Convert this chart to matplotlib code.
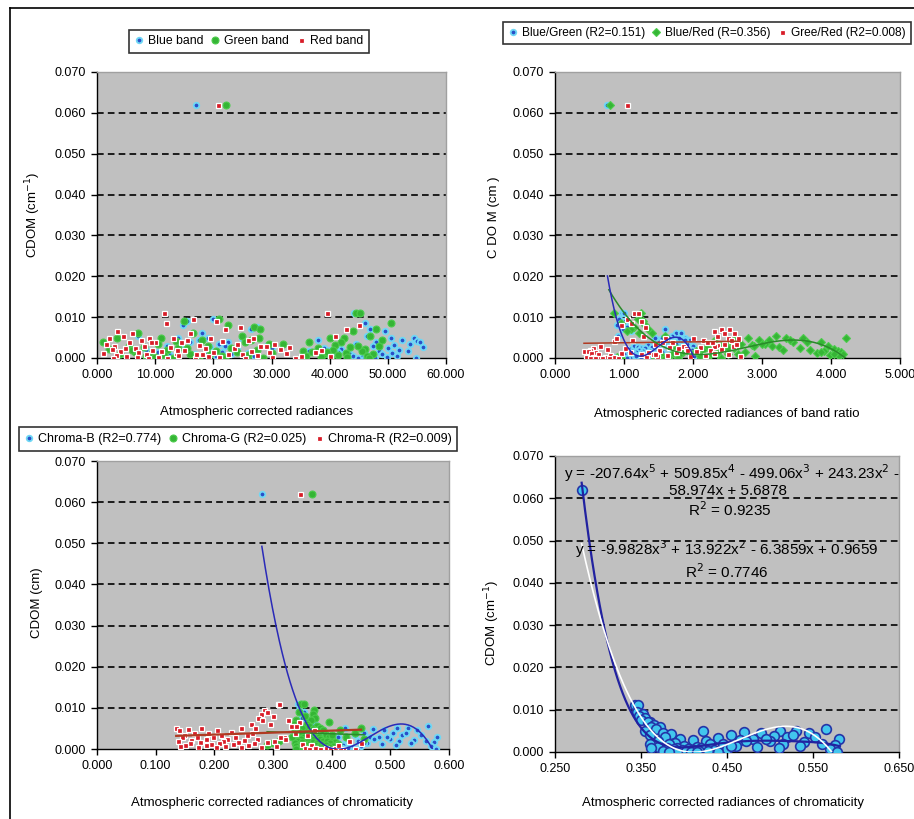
import numpy as np
import matplotlib
matplotlib.use('Agg')
import matplotlib.pyplot as plt
from matplotlib.lines import Line2D
from matplotlib.ticker import FormatStrFormatter

plt.rcParams['font.family'] = ['Liberation Sans', 'DejaVu Sans']
plt.rcParams['font.size'] = 9

# CDOM of each sample (cm-1), shared by every panel
cdom = [0.0620,
        0.0110, 0.0110, 0.0095, 0.0090, 0.0085, 0.0080, 0.0075, 0.0070, 0.0070, 0.0065,
        0.0060, 0.0060, 0.0055, 0.0055, 0.0050, 0.0050, 0.0050, 0.0048, 0.0045, 0.0045,
        0.0042, 0.0040, 0.0040, 0.0038, 0.0035, 0.0035, 0.0033, 0.0030, 0.0030, 0.0030,
        0.0028, 0.0028, 0.0025, 0.0025, 0.0025, 0.0023, 0.0022, 0.0020, 0.0020, 0.0020,
        0.0018, 0.0018, 0.0017, 0.0015, 0.0015, 0.0015, 0.0013, 0.0012, 0.0012, 0.0010,
        0.0010, 0.0010, 0.0009, 0.0008, 0.0008, 0.0007, 0.0006, 0.0005, 0.0005, 0.0004,
        0.0003, 0.0003, 0.0002, 0.0002, 0.0001, 0.0001, 0.0000, 0.0000, 0.0000, 0.0000,
        0.0045, 0.0035, 0.0025, 0.0015, 0.0040, 0.0030, 0.0020, 0.0050, 0.0010]

# panel 1: band radiances
blue_band = [17.0,
             45.0, 44.2, 20.0, 15.5, 46.0, 14.8, 27.5, 26.5, 47.0, 49.5,
             18.0, 16.5, 46.5, 7.0, 19.0, 50.5, 14.0, 54.5, 38.0, 17.5,
             55.0, 22.5, 48.0, 16.0, 44.5, 21.0, 51.0, 12.0, 47.5, 29.0,
             56.0, 19.5, 39.0, 50.0, 24.0, 42.0, 15.0, 52.0, 45.5, 8.5,
             48.5, 36.5, 53.5, 21.5, 41.5, 10.5, 46.0, 26.0, 50.8, 18.5,
             43.5, 23.0, 49.0, 12.5, 47.2, 36.0, 51.5, 27.0, 44.0, 20.5,
             45.5, 13.0, 49.8, 46.8, 43.0, 54.8, 44.8, 47.8, 46.0, 12.5,
             52.5, 53.8, 30.0, 41.0, 55.5, 22.0, 40.0, 25.0, 16.8]
green_band = [22.2,
              44.5, 45.2, 21.0, 15.0, 50.5, 22.5, 27.0, 48.0, 28.0, 44.0,
              16.5, 7.0, 25.0, 47.0, 3.5, 40.0, 42.5, 11.0, 18.0, 26.5,
              13.5, 42.0, 1.0, 36.5, 29.5, 10.5, 41.0, 48.5, 5.5, 19.0,
              43.5, 8.0, 23.0, 38.0, 14.0, 46.0, 2.0, 27.5, 40.5, 12.0,
              35.5, 20.5, 45.5, 6.5, 37.0, 24.0, 42.8, 9.5, 30.0, 39.0,
              16.0, 47.5, 4.0, 26.0, 41.5, 11.5, 36.0, 21.5, 46.5, 8.5,
              38.5, 10.0, 43.0, 17.5, 35.0, 28.5, 13.0, 40.2, 22.0, 46.8,
              49.0, 32.0, 15.5, 39.5, 25.5, 44.8, 6.0, 27.8, 19.5]
red_band = [20.8,
            39.5, 11.5, 16.5, 20.5, 11.8, 45.0, 24.5, 22.0, 42.8, 3.5,
            6.0, 16.0, 41.0, 4.5, 19.5, 2.0, 9.0, 13.0, 26.0, 7.5,
            21.5, 5.5, 14.5, 10.0, 1.5, 30.5, 17.5, 3.0, 8.0, 28.0,
            12.5, 33.0, 6.5, 18.5, 23.5, 2.5, 31.5, 9.5, 15.0, 38.5,
            4.0, 26.5, 11.0, 20.0, 29.5, 7.0, 13.5, 32.5, 1.0, 22.5,
            8.5, 18.0, 25.0, 3.2, 27.5, 14.0, 35.0, 5.0, 19.0, 40.0,
            6.8, 21.0, 10.5, 30.0, 2.8, 16.8, 25.5, 12.0, 34.0, 8.8,
            15.5, 24.0, 4.8, 37.5, 9.2, 29.0, 13.8, 26.8, 17.0]

# panel 2: band ratios
blue_green = [0.76,
              0.97, 1.00, 0.93, 1.02, 0.95, 0.90, 1.05, 0.98, 1.60, 1.10,
              1.75, 1.82, 0.92, 1.70, 1.45, 1.65, 1.88, 1.55, 1.78, 1.95,
              1.62, 1.85, 1.50, 1.72, 1.92, 1.58, 1.35, 2.00, 1.68, 1.15,
              1.20, 1.40, 1.25, 1.80, 1.30, 1.90, 1.08, 1.48, 1.22, 1.98,
              1.12, 1.28, 1.38, 1.18, 1.52, 1.05, 1.32, 1.95, 1.25, 1.42,
              1.15, 1.00, 1.35, 1.22, 1.10, 1.60, 1.28, 2.02, 1.18, 1.45,
              0.80, 0.85, 0.82, 1.40, 0.90, 1.08, 0.98, 1.25, 0.86, 1.05,
              1.88, 1.76, 1.65, 1.55, 1.70, 1.85, 1.50, 1.80, 1.35]
blue_red = [0.80,
            1.25, 0.85, 1.20, 1.28, 0.95, 1.30, 1.15, 1.10, 1.35, 1.05,
            1.40, 1.22, 3.20, 1.60, 4.22, 3.60, 2.80, 3.35, 2.95, 3.10,
            2.30, 3.85, 2.55, 3.45, 3.05, 2.70, 2.85, 3.15, 2.40, 3.95,
            2.20, 3.25, 1.75, 2.60, 3.55, 4.05, 2.45, 1.90, 3.70, 2.15,
            4.10, 2.05, 3.90, 1.85, 2.75, 4.15, 1.95, 2.35, 3.80, 2.50,
            4.18, 2.65, 1.70, 2.25, 3.98, 1.80, 2.90, 1.55, 4.12, 2.10,
            1.65, 0.78, 1.50, 0.90, 1.45, 1.78, 2.40, 1.60, 0.95, 2.20,
            3.40, 3.00, 2.50, 3.85, 3.65, 2.88, 3.30, 2.62, 4.05]
green_red = [1.04,
             1.15, 1.20, 1.05, 1.25, 1.10, 0.95, 1.30, 2.40, 2.52, 2.30,
             2.45, 2.60, 1.28, 2.35, 1.60, 2.50, 2.00, 2.65, 1.12, 2.15,
             0.85, 1.70, 2.20, 1.55, 2.45, 1.45, 2.35, 2.58, 1.85, 2.30,
             1.65, 2.10, 0.55, 1.90, 1.02, 2.40, 0.75, 1.50, 2.25, 0.50,
             0.42, 2.05, 0.48, 1.75, 0.58, 1.08, 0.52, 2.30, 0.95, 0.62,
             1.25, 2.50, 1.42, 0.80, 2.18, 1.62, 1.32, 2.68, 1.48, 1.95,
             0.45, 0.72, 0.55, 0.85, 0.62, 0.92, 0.68, 0.78, 0.50, 0.58,
             2.55, 2.62, 1.78, 1.35, 2.28, 0.65, 1.92, 0.88, 1.45]

# panels 3 and 4: chromaticity
chroma_b = [0.281,
            0.343, 0.347, 0.345, 0.352, 0.348, 0.355, 0.350, 0.360, 0.358, 0.365,
            0.362, 0.372, 0.368, 0.565, 0.355, 0.512, 0.530, 0.470, 0.375, 0.490,
            0.385, 0.360, 0.455, 0.505, 0.378, 0.520, 0.440, 0.395, 0.480, 0.580,
            0.410, 0.465, 0.370, 0.425, 0.500, 0.540, 0.390, 0.360, 0.445, 0.515,
            0.382, 0.430, 0.575, 0.400, 0.460, 0.535, 0.415, 0.370, 0.485, 0.392,
            0.420, 0.510, 0.380, 0.405, 0.450, 0.570, 0.388, 0.412, 0.435, 0.398,
            0.375, 0.418, 0.402, 0.428, 0.392, 0.408, 0.383, 0.415, 0.578, 0.440,
            0.545, 0.552, 0.472, 0.455, 0.527, 0.495, 0.560, 0.422, 0.362]
chroma_g = [0.367,
            0.348, 0.352, 0.370, 0.345, 0.368, 0.355, 0.372, 0.340, 0.365, 0.395,
            0.358, 0.335, 0.375, 0.362, 0.342, 0.380, 0.350, 0.368, 0.338, 0.385,
            0.345, 0.360, 0.372, 0.355, 0.390, 0.340, 0.365, 0.378, 0.352, 0.395,
            0.332, 0.362, 0.380, 0.348, 0.370, 0.400, 0.358, 0.385, 0.342, 0.392,
            0.368, 0.405, 0.350, 0.375, 0.338, 0.398, 0.360, 0.382, 0.410, 0.345,
            0.372, 0.355, 0.390, 0.365, 0.402, 0.340, 0.378, 0.395, 0.352, 0.385,
            0.345, 0.370, 0.360, 0.388, 0.350, 0.375, 0.340, 0.365, 0.355, 0.380,
            0.415, 0.400, 0.455, 0.300, 0.440, 0.425, 0.310, 0.450, 0.290]
chroma_r = [0.346,
            0.308, 0.310, 0.285, 0.290, 0.280, 0.300, 0.275, 0.282, 0.325, 0.345,
            0.262, 0.295, 0.330, 0.340, 0.135, 0.178, 0.245, 0.155, 0.205, 0.140,
            0.228, 0.165, 0.190, 0.265, 0.148, 0.212, 0.255, 0.318, 0.170, 0.236,
            0.198, 0.145, 0.272, 0.185, 0.222, 0.160, 0.250, 0.138, 0.302, 0.215,
            0.175, 0.240, 0.290, 0.158, 0.208, 0.268, 0.350, 0.195, 0.232, 0.365,
            0.150, 0.185, 0.258, 0.218, 0.142, 0.305, 0.202, 0.245, 0.172, 0.280,
            0.355, 0.372, 0.390, 0.405, 0.362, 0.420, 0.380, 0.440, 0.398, 0.415,
            0.370, 0.358, 0.320, 0.450, 0.338, 0.312, 0.430, 0.270, 0.410]

# trendline equations printed on panel 4
poly5_coef = [-207.64, 509.85, -499.06, 243.23, -58.974, 5.6878]
poly3_coef = [-9.9828, 13.922, -6.3859, 0.9659]

W, H = 914, 819
fig = plt.figure(figsize=(W / 100, H / 100), dpi=100)
fig.patch.set_facecolor('white')


def px(x, y):
    return x / W, 1 - y / H


def new_axes(left, top, right, bottom):
    ax = fig.add_axes([left / W, 1 - bottom / H, (right - left) / W, (bottom - top) / H])
    ax.set_facecolor('#c0c0c0')
    ax.set_ylim(0, 0.07)
    ax.set_yticks(np.arange(0, 0.0701, 0.01))
    for yv in np.arange(0.01, 0.0601, 0.01):
        ax.axhline(yv, color='black', lw=1.2, ls=(0, (4, 2.5)), zorder=1)
    ax.yaxis.set_major_formatter(FormatStrFormatter('%.3f'))
    ax.xaxis.set_major_formatter(FormatStrFormatter('%.3f'))
    for s in ['left', 'bottom']:
        ax.spines[s].set_color('black')
        ax.spines[s].set_linewidth(1.0)
    for s in ['top', 'right']:
        ax.spines[s].set_color('#a0a0a0')
        ax.spines[s].set_linewidth(1.0)
    ax.tick_params(direction='out', length=4, width=1, labelsize=9, colors='black', pad=4)
    return ax


blue_kw = dict(ls='none', marker='o', ms=4, mfc='#2a4fc8', mec='#6fd8f5', mew=1.3)
green_kw = dict(ls='none', marker='o', ms=5, mfc='#35b535', mec='#4ccc4c', mew=0.8)
red_kw = dict(ls='none', marker='s', ms=3.6, mfc='#d81c28', mec='white', mew=0.9)


def trend(ax, x, y, deg, color, lw=1.1):
    c = np.polyfit(x, y, deg)
    xs = np.linspace(min(x), max(x), 200)
    ax.plot(xs, np.polyval(c, xs), color=color, lw=lw, zorder=5)


def legend(handles, labels, cx, cy, fs=9):
    lg = fig.legend(handles, labels, loc='center', bbox_to_anchor=px(cx, cy),
                    bbox_transform=fig.transFigure, ncol=3, fontsize=fs,
                    frameon=True, fancybox=False, edgecolor='black',
                    handlelength=0.7, handletextpad=0.4, columnspacing=0.6,
                    borderpad=0.45, borderaxespad=0)
    lg.get_frame().set_linewidth(1.2)


lab = dict(ha='center', va='center', fontsize=9.5)

# ---------- panel 1 ----------
ax1 = new_axes(97, 72, 446, 358)
ax1.set_xlim(0, 60)
ax1.set_xticks(np.arange(0, 60.1, 10))
h1 = ax1.plot(blue_band, cdom, zorder=3, **blue_kw)[0]
h2 = ax1.plot(green_band, cdom, zorder=3, **green_kw)[0]
h3 = ax1.plot(red_band, cdom, zorder=4, **red_kw)[0]
legend([h1, h2, h3], ['Blue band', 'Green band', 'Red band'], 249, 41, fs=8.8)
fig.text(*px(257, 412), 'Atmospheric corrected radiances', **lab)
fig.text(*px(33, 215), 'CDOM (cm$^{-1}$)', rotation=90, **lab)

# ---------- panel 2 ----------
ax2 = new_axes(555, 72, 900, 358)
ax2.set_xlim(0, 5)
ax2.set_xticks(np.arange(0, 5.01, 1))
h1 = ax2.plot(blue_green, cdom, zorder=3, **blue_kw)[0]
h2 = ax2.plot(blue_red, cdom, zorder=3, **dict(green_kw, marker='D', ms=4.5))[0]
h3 = ax2.plot(green_red, cdom, zorder=4, **red_kw)[0]
trend(ax2, green_red, cdom, 1, '#b03a22')
trend(ax2, blue_red, cdom, 3, '#2a8a2a')
trend(ax2, blue_green, cdom, 3, '#2a2ab8')
legend([h1, h2, h3], ['Blue/Green (R2=0.151)', 'Blue/Red (R=0.356)', 'Gree/Red (R2=0.008)'], 707, 33, fs=8.6)
fig.text(*px(727, 414), 'Atmospheric corected radiances of band ratio', **lab)
fig.text(*px(494, 217), 'C DO M (cm )', rotation=90, **lab)

# ---------- panel 3 ----------
ax3 = new_axes(97, 461, 449, 749)
ax3.set_xlim(0, 0.6)
ax3.set_xticks(np.arange(0, 0.601, 0.1))
h1 = ax3.plot(chroma_b, cdom, zorder=3, **blue_kw)[0]
h2 = ax3.plot(chroma_g, cdom, zorder=3, **green_kw)[0]
h3 = ax3.plot(chroma_r, cdom, zorder=4, **red_kw)[0]
xs = np.linspace(min(chroma_b), max(chroma_b), 200)
ax3.plot(xs, np.polyval(poly3_coef, xs), color='#2a2ab8', lw=1.1, zorder=5)
trend(ax3, chroma_g, cdom, 1, '#2a8a2a')
trend(ax3, chroma_r, cdom, 1, '#b03a22', lw=1.6)
legend([h1, h2, h3], ['Chroma-B (R2=0.774)', 'Chroma-G (R2=0.025)', 'Chroma-R (R2=0.009)'], 238, 439, fs=9)
fig.text(*px(272, 803), 'Atmospheric corrected radiances of chromaticity', **lab)
fig.text(*px(37, 603), 'CDOM (cm)', rotation=90, **lab)

# ---------- panel 4 ----------
ax4 = new_axes(555, 456, 899, 752)
ax4.set_xlim(0.25, 0.65)
ax4.set_xticks(np.arange(0.25, 0.651, 0.1))
ax4.plot(chroma_b, cdom, ls='none', marker='o', ms=7, mfc='#42c6ee', mec='#2434a8', mew=1.2, zorder=3)
xs = np.linspace(min(chroma_b), max(chroma_b), 300)
ax4.plot(xs, np.polyval(poly5_coef, xs), color='#2222a0', lw=1.6, zorder=5)
ax4.plot(xs, np.polyval(poly3_coef, xs), color='white', lw=1.2, zorder=6)
eq = dict(ha='center', va='center', fontsize=11)
fig.text(*px(732, 473), 'y = -207.64x$^5$ + 509.85x$^4$ - 499.06x$^3$ + 243.23x$^2$ -', **eq)
fig.text(*px(728, 491), '58.974x + 5.6878', **eq)
fig.text(*px(730, 510), 'R$^2$ = 0.9235', **eq)
fig.text(*px(727, 549), 'y = -9.9828x$^3$ + 13.922x$^2$ - 6.3859x + 0.9659', **eq)
fig.text(*px(727, 572), 'R$^2$ = 0.7746', **eq)
fig.text(*px(723, 803), 'Atmospheric corrected radiances of chromaticity', **lab)
fig.text(*px(492, 623), 'CDOM (cm$^{-1}$)', rotation=90, **lab)

# outer frame (top and left edges)
fig.add_artist(Line2D([10 / W, 1.0], [1 - 8 / H, 1 - 8 / H], color='black', lw=1.2, transform=fig.transFigure))
fig.add_artist(Line2D([10 / W, 10 / W], [1 - 8 / H, 0.0], color='black', lw=1.2, transform=fig.transFigure))

fig.savefig('out.png', dpi=100)
